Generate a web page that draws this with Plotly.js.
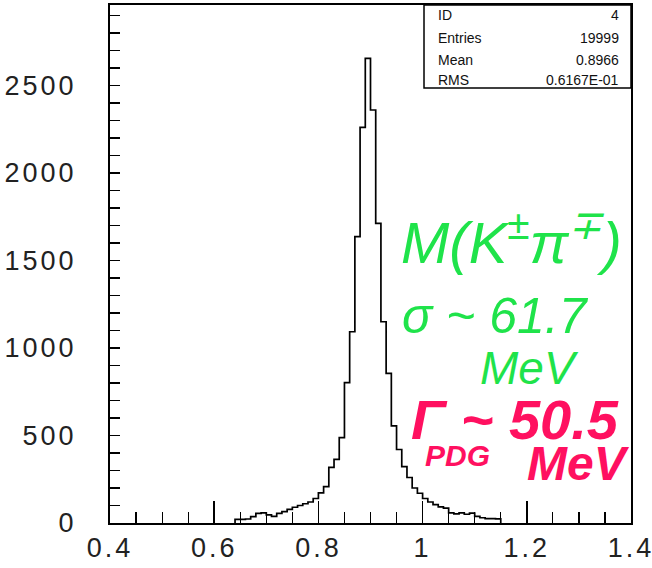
<!DOCTYPE html>
<html>
<head>
<meta charset="utf-8">
<script src="https://cdn.plot.ly/plotly-3.0.1.min.js"></script>
<style>
  html, body { margin: 0; padding: 0; background: #fff; }
  #plot { width: 652px; height: 568px; }
  .xtick text, .ytick text { letter-spacing: 3px; }
</style>
</head>
<body>
<div id="plot"></div>
<script>
// Histogram ID 4: K pi invariant mass, 0.01 wide bins (lower edges listed)
const binLow = [
  0.64, 0.65, 0.66, 0.67, 0.68, 0.69, 0.70, 0.71, 0.72, 0.73,
  0.74, 0.75, 0.76, 0.77, 0.78, 0.79, 0.80, 0.81, 0.82, 0.83,
  0.84, 0.85, 0.86, 0.87, 0.88, 0.89, 0.90, 0.91, 0.92, 0.93,
  0.94, 0.95, 0.96, 0.97, 0.98, 0.99, 1.00, 1.01, 1.02, 1.03,
  1.04, 1.05, 1.06, 1.07, 1.08, 1.09, 1.10, 1.11, 1.12, 1.13,
  1.14
];
const binHigh = 1.15;
const counts = [
  21, 21, 23, 36, 55, 58, 46, 38, 55, 65,
  78, 90, 100, 110, 120, 140, 172, 208, 318, 364,
  488, 802, 1093, 1636, 2261, 2655, 2360, 1712, 1150, 855,
  555, 420, 322, 260, 200, 170, 140, 120, 105, 92,
  85, 58, 52, 58, 50, 56, 38, 30, 25, 25,
  24
];

// Axis tick labels
const xTickVals = [0.4, 0.6, 0.8, 1.0, 1.2, 1.4];
const xTickText = ['0.4', '0.6', '0.8', '1', '1.2', '1.4'];
const yTickVals = [0, 500, 1000, 1500, 2000, 2500];
const yTickText = ['0', '500', '1000', '1500', '2000', '2500'];

// Statistics box
const statNames = ['ID', 'Entries', 'Mean', 'RMS'];
const statValues = ['4', '19999', '0.8966', '0.6167E-01'];

// Step outline of the histogram built from the bin arrays
const stepX = [binLow[0]].concat(binLow, [binHigh, binHigh]);
const stepY = [0].concat(counts, [counts[counts.length - 1], 0]);

const hist = {
  type: 'scatter',
  mode: 'lines',
  x: stepX,
  y: stepY,
  line: { shape: 'hv', color: '#000', width: 1.7 },
  hoverinfo: 'skip',
  showlegend: false
};

const tickFont = { family: 'Liberation Sans, Arial, sans-serif', size: 27, color: '#222' };

const statFont = { family: 'Liberation Sans, Arial, sans-serif', size: 14, color: '#111' };
const rowY = [0.981, 0.937, 0.894, 0.855];
const annotations = [];
statNames.forEach((name, i) => {
  annotations.push({
    xref: 'paper', yref: 'paper', x: 0.625, y: rowY[i],
    xanchor: 'left', yanchor: 'middle', text: name, showarrow: false, font: statFont
  });
  annotations.push({
    xref: 'paper', yref: 'paper', x: 0.98, y: rowY[i],
    xanchor: 'right', yanchor: 'middle', text: statValues[i], showarrow: false, font: statFont
  });
});

// Handwritten notes
const green = '#1fe34a';
const magenta = '#ff1060';
const noteFont = 'Liberation Sans, Arial, sans-serif';
annotations.push(
  { xref: 'paper', yref: 'paper', x: 0.77, y: 0.55, xanchor: 'center', yanchor: 'middle',
    text: '<i>M(K<sup>±</sup>π<sup>∓</sup>)</i>', showarrow: false,
    font: { family: noteFont, size: 58, color: green } },
  { xref: 'paper', yref: 'paper', x: 0.739, y: 0.399, xanchor: 'center', yanchor: 'middle',
    text: '<i>σ ~ 61.7</i>', showarrow: false,
    font: { family: noteFont, size: 50, color: green } },
  { xref: 'paper', yref: 'paper', x: 0.806, y: 0.300, xanchor: 'center', yanchor: 'middle',
    text: '<i>MeV</i>', showarrow: false,
    font: { family: noteFont, size: 46, color: green } },
  { xref: 'paper', yref: 'paper', x: 0.777, y: 0.200, xanchor: 'center', yanchor: 'middle',
    text: '<b><i>Γ ~ 50.5</i></b>', showarrow: false,
    font: { family: noteFont, size: 56, color: magenta } },
  { xref: 'paper', yref: 'paper', x: 0.667, y: 0.13, xanchor: 'center', yanchor: 'middle',
    text: '<b><i>PDG</i></b>', showarrow: false,
    font: { family: noteFont, size: 30, color: magenta } },
  { xref: 'paper', yref: 'paper', x: 0.90, y: 0.115, xanchor: 'center', yanchor: 'middle',
    text: '<b><i>MeV</i></b>', showarrow: false,
    font: { family: noteFont, size: 48, color: magenta } }
);

const layout = {
  width: 652,
  height: 568,
  margin: { l: 110, r: 21, t: 5, b: 45 },
  paper_bgcolor: '#fff',
  plot_bgcolor: '#fff',
  showlegend: false,
  xaxis: {
    range: [0.4, 1.4],
    tickmode: 'array', tickvals: xTickVals, ticktext: xTickText,
    ticks: 'inside', ticklen: 22, tickwidth: 1.5, tickcolor: '#000',
    minor: { dtick: 0.05, tick0: 0.4, ticks: 'inside', ticklen: 11, tickwidth: 1.2, tickcolor: '#000', showgrid: false },
    showgrid: false, zeroline: false,
    showline: true, mirror: true, linecolor: '#000', linewidth: 2,
    tickfont: tickFont, ticklabelstandoff: 0, ticklabeloverflow: 'allow'
  },
  yaxis: {
    range: [0, 2960],
    tickmode: 'array', tickvals: yTickVals, ticktext: yTickText,
    ticks: 'inside', ticklen: 10, tickwidth: 1.5, tickcolor: '#000',
    minor: { dtick: 100, tick0: 0, ticks: 'inside', ticklen: 10, tickwidth: 1.2, tickcolor: '#000', showgrid: false },
    showgrid: false, zeroline: false,
    showline: true, mirror: true, linecolor: '#000', linewidth: 2,
    tickfont: tickFont, ticklabelstandoff: 26, ticklabeloverflow: 'allow'
  },
  shapes: [
    { type: 'rect', xref: 'paper', yref: 'paper', x0: 0.6027, x1: 1.0, y0: 0.8398, y1: 1.0,
      line: { color: '#000', width: 1.5 }, fillcolor: '#fff', layer: 'above' }
  ],
  annotations: annotations
};

Plotly.newPlot('plot', [hist], layout, { displayModeBar: false, staticPlot: true });
</script>
</body>
</html>
